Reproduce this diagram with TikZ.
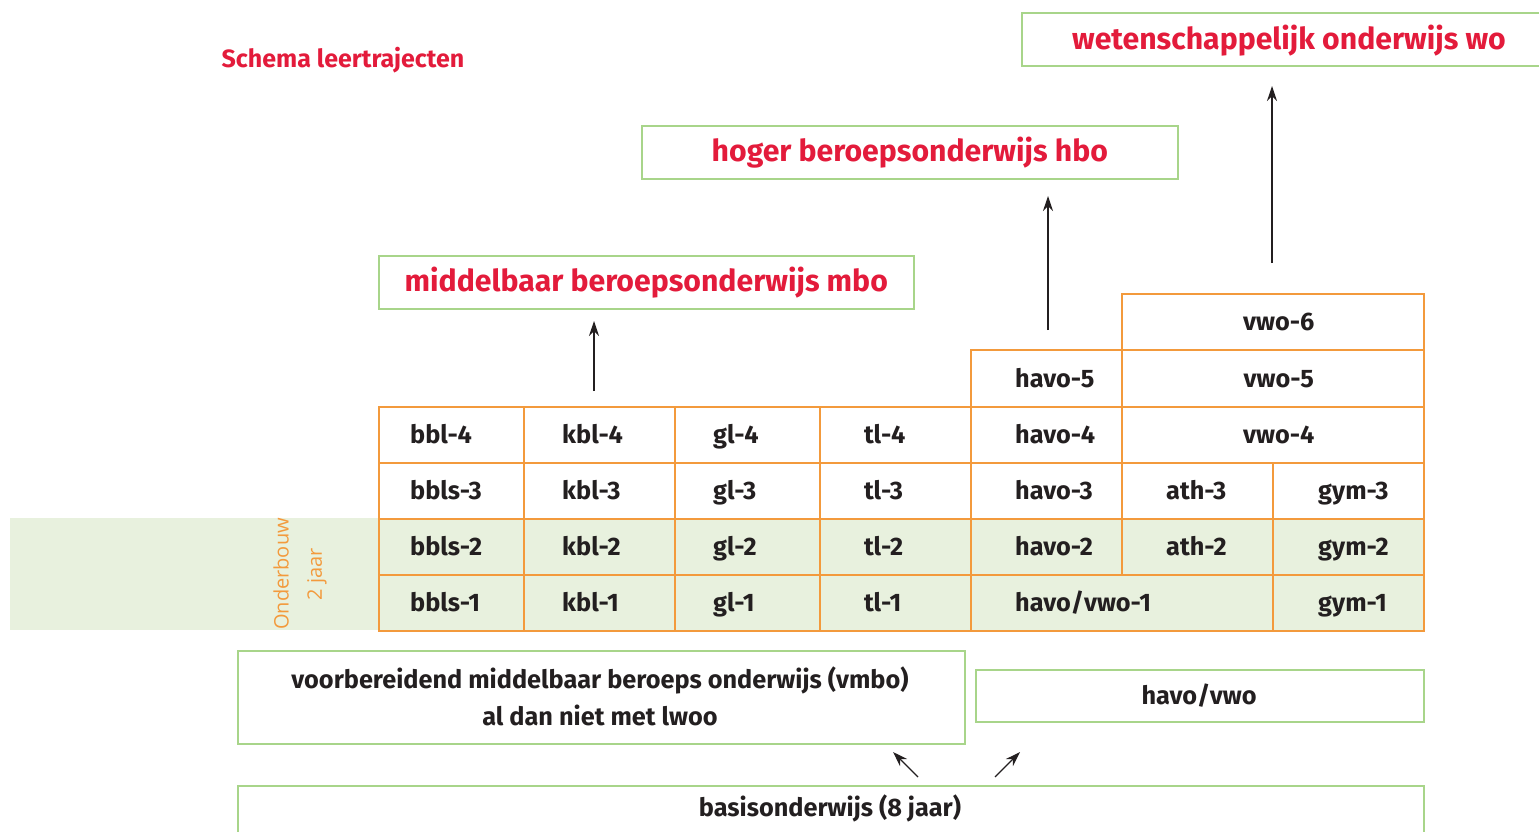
\documentclass[tikz,border=0pt]{standalone}
\usepackage{fontspec}
\setmainfont{Fira Sans}
\newfontfamily\lightfont{Open Sans}
\usetikzlibrary{arrows.meta,calc}
\definecolor{borange}{HTML}{F39A3C}
\definecolor{bgreen}{HTML}{A8D58A}
\definecolor{fgreen}{HTML}{E8F1DE}
\definecolor{tred}{HTML}{E31B3B}
\definecolor{tdark}{HTML}{231F20}
\begin{document}
\begin{tikzpicture}[x=1pt,y=-1pt,
  cellbox/.style={draw=borange, line width=1.5pt, inner sep=0pt, anchor=north west},
  lbl/.style={font=\fontsize{25.3}{30}\selectfont\bfseries, text=tdark, anchor=base west, inner sep=0pt},
  clbl/.style={font=\fontsize{25.3}{30}\selectfont\bfseries, text=tdark, inner sep=0pt},
  gbox/.style={draw=bgreen, line width=1.6pt, inner sep=0pt, anchor=north west},
  redtxt/.style={font=\fontsize{30.2}{35}\selectfont\bfseries, text=tred, inner sep=0pt},
  arr/.style={line width=1.2pt, -{Stealth[length=15pt,width=10pt]}, tdark}]
\useasboundingbox (0,0) rectangle (1539,832);
% green band
\fill[fgreen] (10,518) rectangle (1423,630);
% title
\node[font=\fontsize{25}{30}\selectfont\bfseries, text=tred, inner sep=0pt] (title) at (343,60) {Schema leertrajecten};
% onderbouw
\node[font=\lightfont\fontsize{20}{24}\selectfont, text=borange, rotate=90, inner sep=0pt] (onder) at (281,574) {Onderbouw};
\node[font=\lightfont\fontsize{20}{24}\selectfont, text=borange, rotate=90, inner sep=0pt] (jaar) at (317,574) {2 jaar};
% top boxes
\node[gbox, minimum width=535, minimum height=53] (mbo) at (378,255) {};
\node[redtxt] (mbot) at (mbo.center) {middelbaar beroepsonderwijs mbo};
\node[gbox, minimum width=536, minimum height=53] (hbo) at (641,125) {};
\node[redtxt] (hbot) at (hbo.center) {hoger beroepsonderwijs hbo};
\node[gbox, minimum width=540, minimum height=53] (wo) at (1021,12) {};
\node[redtxt] (wot) at (1289,41) {wetenschappelijk onderwijs wo};
% grid row 4 (y 406-462)
\node[cellbox, minimum width=145, minimum height=56] (bbl4) at (378,406) {};
\node[cellbox, minimum width=151, minimum height=56] (kbl4) at (523,406) {};
\node[cellbox, minimum width=145, minimum height=56] (gl4) at (674,406) {};
\node[cellbox, minimum width=151, minimum height=56] (tl4) at (819,406) {};
\node[cellbox, minimum width=151, minimum height=56] (havo4) at (970,406) {};
\node[cellbox, minimum width=302, minimum height=56] (vwo4) at (1121,406) {};
% row 3
\node[cellbox, minimum width=145, minimum height=56] (bbl3) at (378,462) {};
\node[cellbox, minimum width=151, minimum height=56] (kbl3) at (523,462) {};
\node[cellbox, minimum width=145, minimum height=56] (gl3) at (674,462) {};
\node[cellbox, minimum width=151, minimum height=56] (tl3) at (819,462) {};
\node[cellbox, minimum width=151, minimum height=56] (havo3) at (970,462) {};
\node[cellbox, minimum width=151, minimum height=56] (ath3) at (1121,462) {};
\node[cellbox, minimum width=151, minimum height=56] (gym3) at (1272,462) {};
% row 2
\node[cellbox, minimum width=145, minimum height=56] (bbl2) at (378,518) {};
\node[cellbox, minimum width=151, minimum height=56] (kbl2) at (523,518) {};
\node[cellbox, minimum width=145, minimum height=56] (gl2) at (674,518) {};
\node[cellbox, minimum width=151, minimum height=56] (tl2) at (819,518) {};
\node[cellbox, minimum width=151, minimum height=56] (havo2) at (970,518) {};
\node[cellbox, minimum width=151, minimum height=56] (ath2) at (1121,518) {};
\node[cellbox, minimum width=151, minimum height=56] (gym2) at (1272,518) {};
% row 1
\node[cellbox, minimum width=145, minimum height=56] (bbl1) at (378,574) {};
\node[cellbox, minimum width=151, minimum height=56] (kbl1) at (523,574) {};
\node[cellbox, minimum width=145, minimum height=56] (gl1) at (674,574) {};
\node[cellbox, minimum width=151, minimum height=56] (tl1) at (819,574) {};
\node[cellbox, minimum width=302, minimum height=56] (hv1) at (970,574) {};
\node[cellbox, minimum width=151, minimum height=56] (gym1) at (1272,574) {};
% upper cells
\node[cellbox, minimum width=151, minimum height=57] (havo5) at (970,349) {};
\node[cellbox, minimum width=302, minimum height=57] (vwo5) at (1121,349) {};
\node[cellbox, minimum width=302, minimum height=56] (vwo6) at (1121,293) {};
% labels
\foreach \n/\t/\d in {bbl4/bbl-4/32, bbl3/bbls-3/32, bbl2/bbls-2/32, bbl1/bbls-1/32,
  kbl4/kbl-4/39, kbl3/kbl-3/39, kbl2/kbl-2/39, kbl1/kbl-1/39,
  gl4/gl-4/39, gl3/gl-3/39, gl2/gl-2/39, gl1/gl-1/39,
  tl4/tl-4/45, tl3/tl-3/45, tl2/tl-2/45, tl1/tl-1/45,
  havo5/havo-5/45, havo4/havo-4/45, havo3/havo-3/45, havo2/havo-2/45, hv1/havo\slash vwo-1/45,
  ath3/ath-3/45, ath2/ath-2/45, gym3/gym-3/46, gym2/gym-2/46, gym1/gym-1/46}
  \node[lbl] (\n-t) at ($(\n.west)+(\d,9)$) {\t};
\foreach \n/\t in {vwo6/vwo-6, vwo5/vwo-5, vwo4/vwo-4}
  \node[clbl, anchor=base] (\n-t) at ($(\n.center)+(6,9)$) {\t};
% bottom boxes
\node[gbox, minimum width=727, minimum height=93] (vmbo) at (237,650) {};
\node[clbl, align=center, font=\fontsize{25.3}{37}\selectfont\bfseries] (vmbot) at (600,696) {voorbereidend middelbaar beroeps onderwijs (vmbo)\\al dan niet met lwoo};
\node[gbox, minimum width=448, minimum height=52] (hvbox) at (975,669) {};
\node[clbl, anchor=base] (hvboxt) at (1199,704) {havo/vwo};
\node[gbox, minimum width=1186, minimum height=60] (basis) at (237,785) {};
\node[clbl, anchor=base] (basist) at (830,816) {basisonderwijs (8 jaar)};
% arrows
\coordinate (a1s) at (594,391);
\coordinate (a1e) at (594,321);
\coordinate (a2s) at (1048,330);
\coordinate (a2e) at (1048,196);
\coordinate (a3s) at (1272,263);
\coordinate (a3e) at (1272,86);
\coordinate (b1s) at (918,777);
\coordinate (b1e) at (893,752);
\coordinate (b2s) at (995,777);
\coordinate (b2e) at (1020,752);
\draw[arr] (a1s) -- (a1e);
\draw[arr] (a2s) -- (a2e);
\draw[arr] (a3s) -- (a3e);
\draw[arr] (b1s) -- (b1e);
\draw[arr] (b2s) -- (b2e);
\end{tikzpicture}
\end{document}
